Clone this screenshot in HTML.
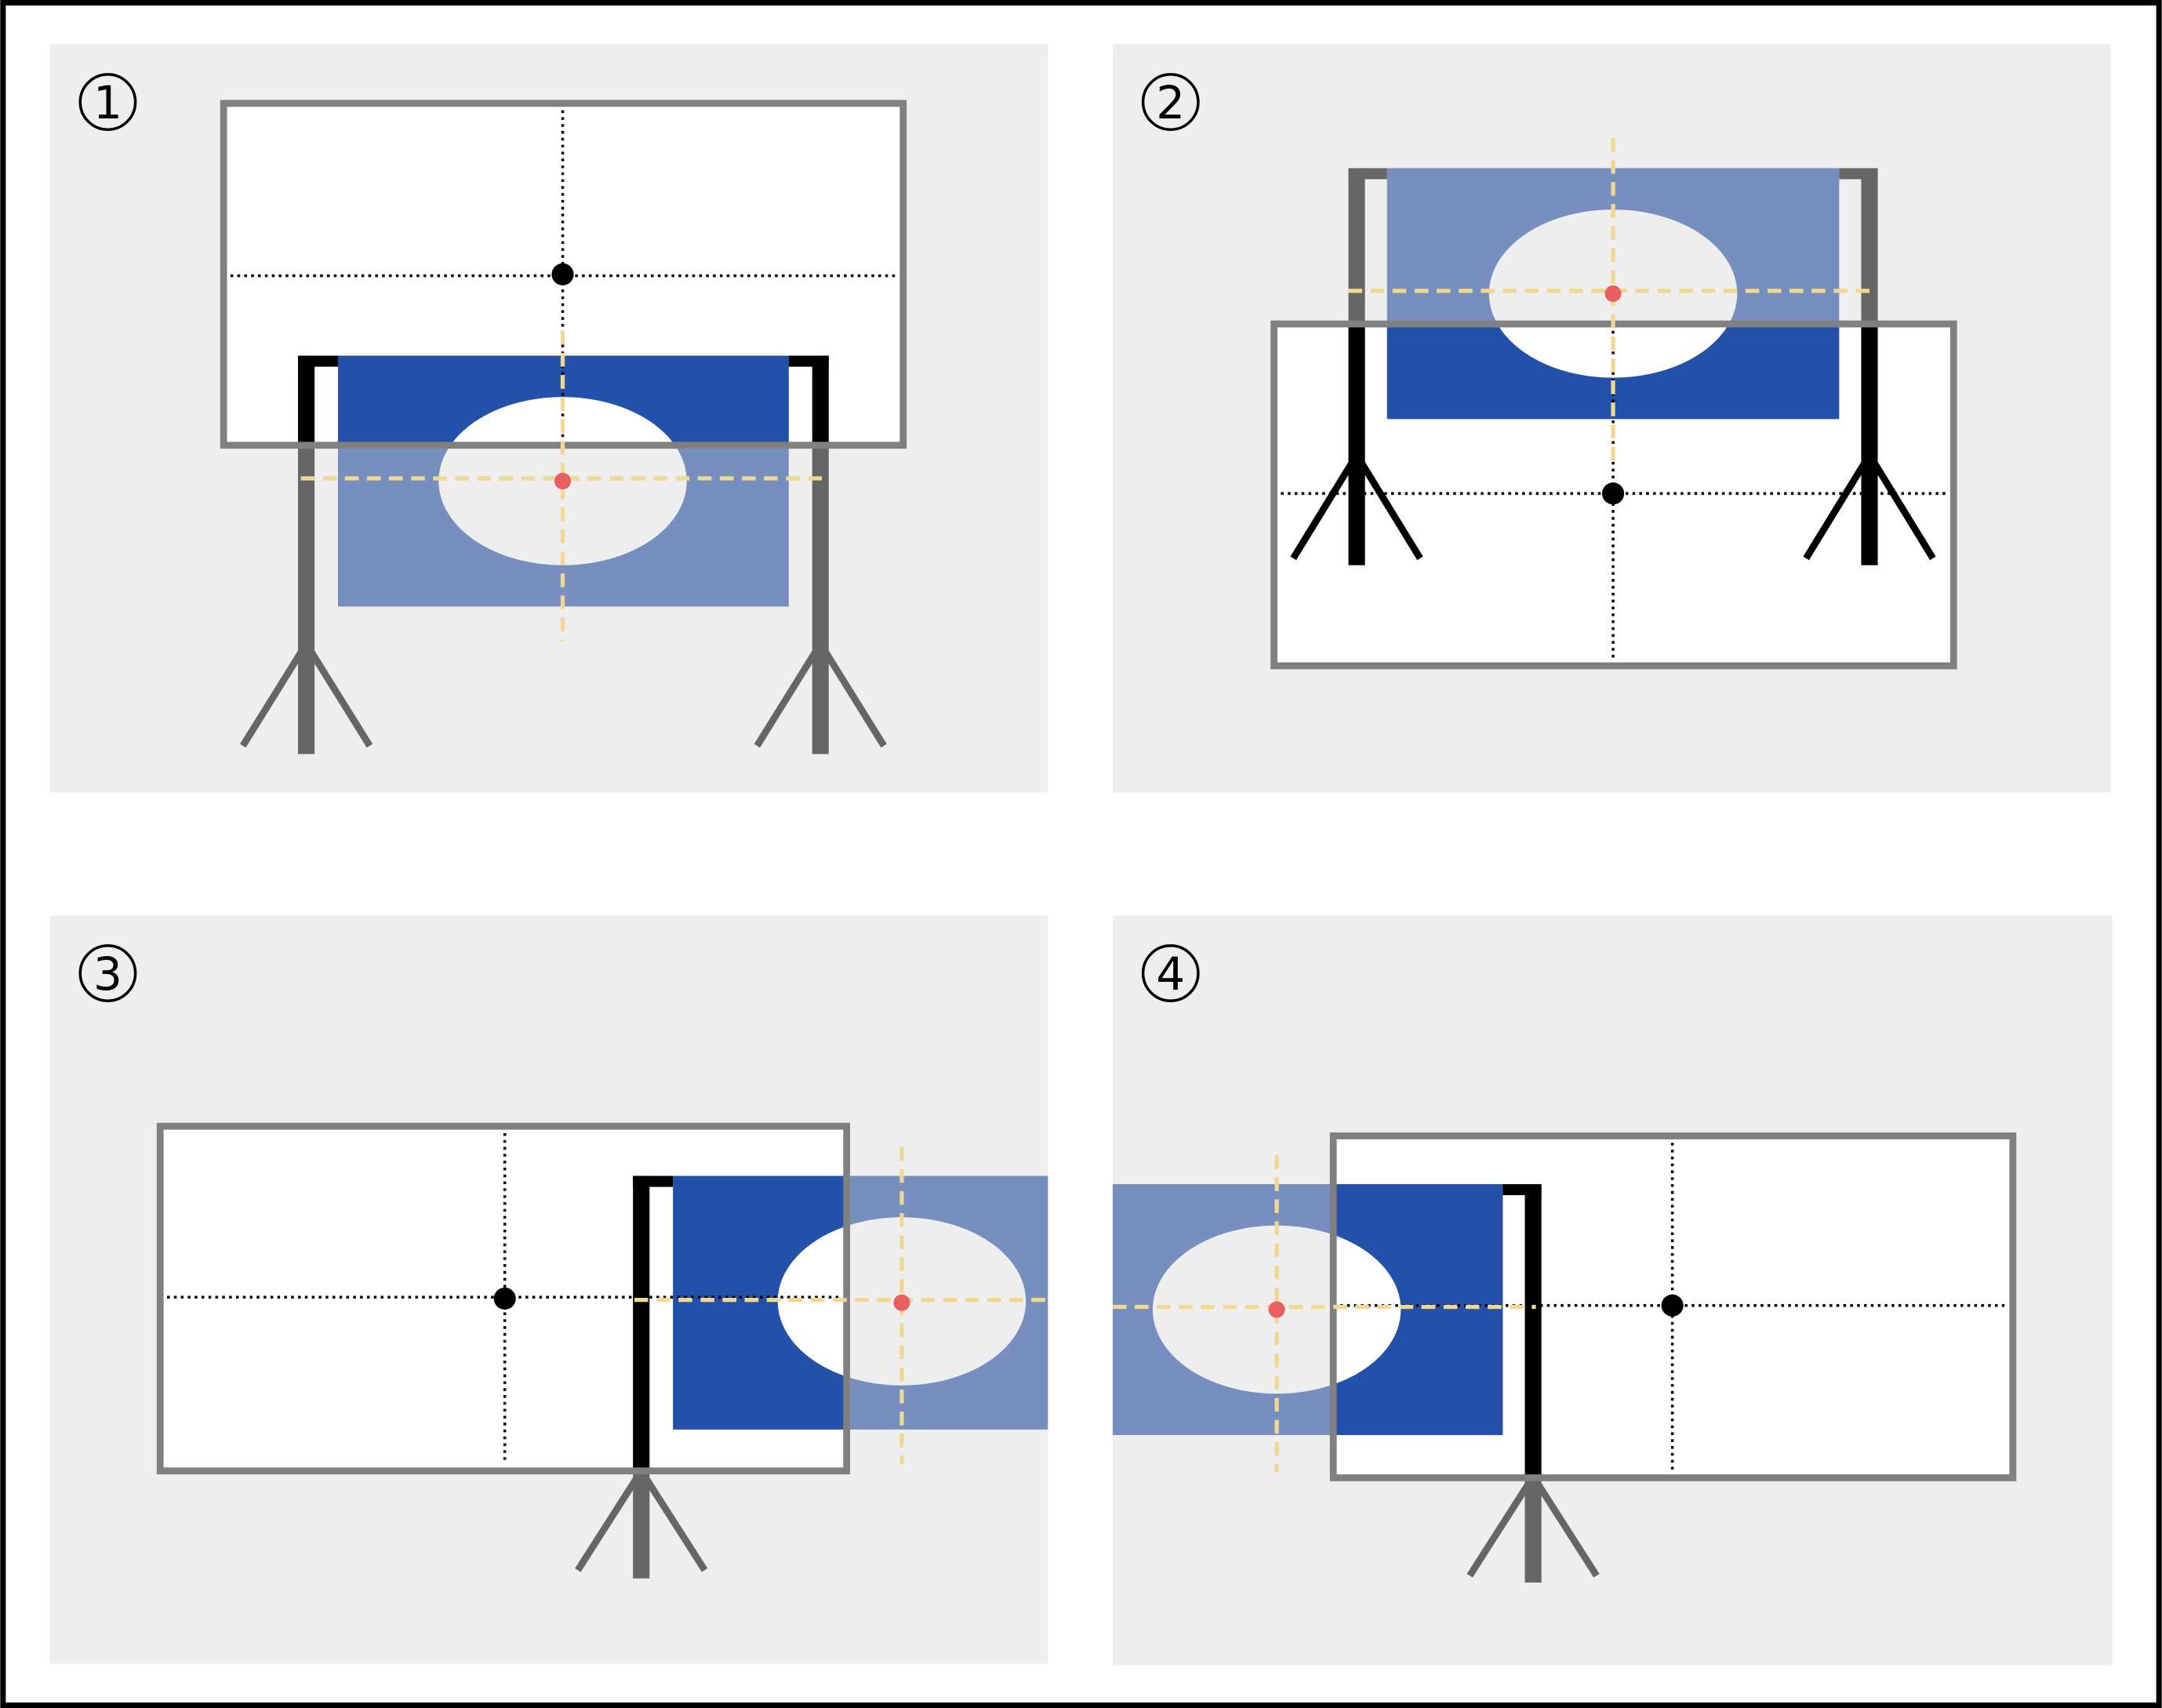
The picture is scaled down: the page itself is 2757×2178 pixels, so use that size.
<!DOCTYPE html>
<html><head><meta charset="utf-8"><style>
html,body{margin:0;padding:0;background:#fff}
svg{display:block}
</style></head><body>
<svg id="fig" xmlns="http://www.w3.org/2000/svg" width="2757" height="2178" viewBox="0 0 1568 1239">
<rect x="2" y="2" width="1564" height="1235" fill="#fff" stroke="#000" stroke-width="4"/>
</svg>
<script>
const NS="http://www.w3.org/2000/svg";
const svg=document.getElementById('fig');
const panelBoxes=[[36,32,724,543],[807,32,724,543],[36,664,724,543],[807,664,725,544]];
const panelLabels=["1","2","3","4"];
const screens=[[162,75,493,248],[924,235,493,248],[116,817,498,250],[967,824,493,248]];
const flags=[[245,258,327,182],[1006,122,328,182],[488,853,300,184],[780,859,310,182]];
const ellipses=[[408,349],[1170,213],[654,944],[926,950]];
const stands=[
 [[222,258,547,245,467,541],[595,258,547,572,467,541]],
 [[984,122,410,1006,330,405],[1356,122,410,1334,330,405]],
 [[465,853,1145,488,1067,1139]],
 [[1112,859,1148,1090,1071,1143]]
];
const crossH=[[167,652,200],[929,1413,358],[121,610,941],[972,1455,947]];
const crossV=[[408,80,318],[1170,240,478],[366,822,1062],[1213,829,1066]];
const centers=[[408,199],[1170,358],[366,942],[1213,947]];
const yelH=[[218,598,347],[978,1362,211],[460,760,943],[807,1114,948]];
const yelV=[[408,240,465],[1170,100,335],[654,832,1062],[926,838,1068]];
const targets=[[408,349],[1170,213],[654,945],[926,950]];

function mk(tag,a,parent){const e=document.createElementNS(NS,tag);for(const k in a)e.setAttribute(k,a[k]);(parent||svg).appendChild(e);return e;}
const defs=mk('defs',{});

function drawStand(g,s,color,pref){
  const [px,ty,by,bx,ay,ly]=s;
  let e=mk('rect',{x:px-6,y:ty,width:12,height:by-ty,fill:color},g);
  
  
  e=mk('rect',{x:bx<px?bx:px-6,y:ty,width:Math.abs(bx-px)+6,height:8,fill:color},g);
  
  
  e=mk('polyline',{points:`${px-46},${ly} ${px},${ay} ${px+46},${ly}`,fill:'none',stroke:color,'stroke-width':5},g);
  
  
}

for(let i=0;i<4;i++){
  const [bx,by,bw,bh]=panelBoxes[i];
  const pg=mk('g',{});
  
  
  const cpP=mk('clipPath',{id:'cp'+i},defs);mk('rect',{x:bx,y:by,width:bw,height:bh},cpP);
  const [sx,sy,sw,sh]=screens[i];
  const cpS=mk('clipPath',{id:'cs'+i},defs);mk('rect',{x:sx,y:sy,width:sw,height:sh},cpS);
  let e=mk('rect',{x:bx,y:by,width:bw,height:bh,fill:'#eeeeee'},pg);
  
  
  e=mk('circle',{cx:bx+42,cy:by+42,r:20,fill:'none',stroke:'#000','stroke-width':2},pg);
  
  
  e=mk('text',{x:bx+42,y:by+54,'font-size':33,'text-anchor':'middle','font-family':'"DejaVu Sans","Liberation Sans",sans-serif',fill:'#000'},pg);
  e.textContent=panelLabels[i];
  
  
  const out=mk('g',{'clip-path':`url(#cp${i})`},pg);
  const [fx,fy,fw,fh]=flags[i];const [ex,ey]=ellipses[i];
  e=mk('rect',{x:fx,y:fy,width:fw,height:fh,fill:'#778fbf'},out);
  
  
  e=mk('ellipse',{cx:ex,cy:ey,rx:90,ry:61,fill:'#eeeeee'},out);
  
  
  stands[i].forEach((s,j)=>drawStand(out,s,'#666666','stand-'+(j+1)));
  e=mk('rect',{x:sx,y:sy,width:sw,height:sh,fill:'#ffffff'},pg);
  
  
  const inn=mk('g',{'clip-path':`url(#cs${i})`},pg);
  e=mk('rect',{x:fx,y:fy,width:fw,height:fh,fill:'#2350a8'},inn);
  
  
  e=mk('ellipse',{cx:ex,cy:ey,rx:90,ry:61,fill:'#ffffff'},inn);
  
  
  stands[i].forEach((s,j)=>drawStand(inn,s,'#000000','stand-inside-'+(j+1)));
  e=mk('rect',{x:sx,y:sy,width:sw,height:sh,fill:'none',stroke:'#808080','stroke-width':5},pg);
  
  
  const [h0,h1,hy]=crossH[i];
  e=mk('line',{x1:h0,x2:h1,y1:hy,y2:hy,stroke:'#000','stroke-width':2,'stroke-dasharray':'2 3'},pg);
  
  
  const [vx,v0,v1]=crossV[i];
  e=mk('line',{x1:vx,x2:vx,y1:v0,y2:v1,stroke:'#000','stroke-width':2,'stroke-dasharray':'2 3'},pg);
  
  
  const [yh0,yh1,yhy]=yelH[i];
  e=mk('line',{x1:yh0,x2:yh1,y1:yhy,y2:yhy,stroke:'#f0d890','stroke-width':3,'stroke-dasharray':'10 6'},pg);
  
  
  const [yvx,yv0,yv1]=yelV[i];
  e=mk('line',{x1:yvx,x2:yvx,y1:yv0,y2:yv1,stroke:'#f0d890','stroke-width':3,'stroke-dasharray':'10 6'},pg);
  
  
  e=mk('circle',{cx:centers[i][0],cy:centers[i][1],r:8,fill:'#000'},pg);
  
  
  e=mk('circle',{cx:targets[i][0],cy:targets[i][1],r:6,fill:'#e86060'},pg);
  
  
}
</script>
</body></html>
